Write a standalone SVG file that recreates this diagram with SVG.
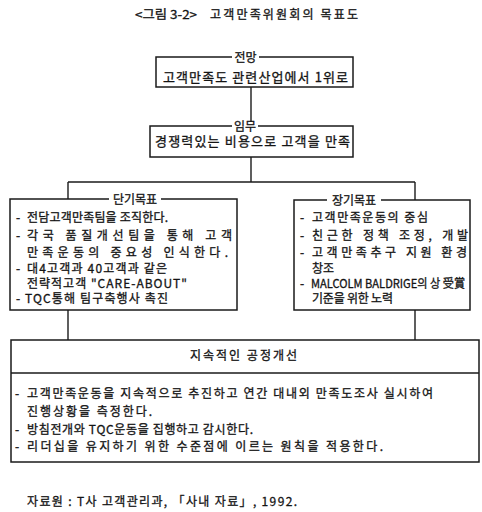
<svg xmlns="http://www.w3.org/2000/svg" width="482" height="512" viewBox="0 0 482 512">
<style>
text{font-family:"Noto Sans CJK KR","Noto Sans",sans-serif;fill:#141414;font-size:12px;stroke:#141414;stroke-width:0.3}
.box{fill:none;stroke:#1a1a1a;stroke-width:1.5}
.big{font-size:13px}
.lbl{text-anchor:middle}
.mask{fill:#fff}
.conn line{stroke:#1a1a1a;stroke-width:1.4}
</style>
<rect width="482" height="512" fill="#fff"/>
<g id="title">
<text x="135" y="19" textLength="62" lengthAdjust="spacingAndGlyphs">&lt;그림 3-2&gt;</text>
<text x="210" y="19" textLength="148" lengthAdjust="spacing">고객만족위원회의 목표도</text>
</g>
<g class="conn" id="connectors">
<line x1="251" y1="87" x2="251" y2="126"/>
<line x1="251" y1="157" x2="251" y2="182"/>
<line x1="68" y1="182" x2="415" y2="182"/>
<line x1="68" y1="182" x2="68" y2="199"/>
<line x1="415" y1="182" x2="415" y2="200"/>
<line x1="68" y1="310" x2="68" y2="340"/>
<line x1="415" y1="310" x2="415" y2="340"/>
</g>
<g id="vision">
<rect class="box" x="156" y="57" width="197" height="30"/>
<rect class="mask" x="232" y="53" width="27" height="8"/>
<text class="lbl" x="245.5" y="61.5">전망</text>
<text class="big" x="163" y="82" textLength="185" lengthAdjust="spacing">고객만족도 관련산업에서 1위로</text>
</g>
<g id="mission">
<rect class="box" x="150" y="126" width="203" height="31"/>
<rect class="mask" x="232" y="122" width="26" height="8"/>
<text class="lbl" x="245" y="130.5">임무</text>
<text class="big" x="155" y="146" textLength="195" lengthAdjust="spacing">경쟁력있는 비용으로 고객을 만족</text>
</g>
<g id="short-term">
<rect class="box" x="10" y="199" width="227" height="111"/>
<rect class="mask" x="109" y="195" width="52" height="8"/>
<text class="lbl" x="135" y="204">단기목표</text>
<text x="16" y="221.5">-</text>
<text x="27" y="221.5" textLength="141" lengthAdjust="spacing">전담고객만족팀을 조직한다.</text>
<text x="16" y="239.5">-</text>
<text x="27" y="239.5" textLength="205" lengthAdjust="spacing">각국 품질개선팀을 통해 고객</text>
<text x="27" y="256.5" textLength="201" lengthAdjust="spacing">만족운동의 중요성 인식한다.</text>
<text x="16" y="272.5">-</text>
<text x="27" y="272.5" textLength="140" lengthAdjust="spacing">대4고객과 40고객과 같은</text>
<text x="27" y="287.5" textLength="160" lengthAdjust="spacing">전략적고객 "CARE-ABOUT"</text>
<text x="16" y="302.5">-</text>
<text x="25" y="302.5" textLength="143" lengthAdjust="spacing">TQC통해 팀구축행사 촉진</text>
</g>
<g id="long-term">
<rect class="box" x="294" y="200" width="176" height="110"/>
<rect class="mask" x="327" y="196" width="54" height="8"/>
<text class="lbl" x="354" y="205">장기목표</text>
<text x="300" y="222">-</text>
<text x="312" y="222" textLength="116" lengthAdjust="spacing">고객만족운동의 중심</text>
<text x="300" y="239.5">-</text>
<text x="312" y="239.5" textLength="156" lengthAdjust="spacing">친근한 정책 조정, 개발</text>
<text x="300" y="256.5">-</text>
<text x="312" y="256.5" textLength="155" lengthAdjust="spacing">고객만족추구 지원 환경</text>
<text x="312" y="272.5">창조</text>
<text x="300" y="287.5">-</text>
<text x="311" y="287.5" textLength="154" lengthAdjust="spacingAndGlyphs">MALCOLM BALDRIGE의 상 受賞</text>
<text x="312" y="302.5" textLength="81" lengthAdjust="spacing">기준을 위한 노력</text>
</g>
<g id="improvement">
<rect class="box" x="11" y="340" width="468" height="122"/>
<line x1="11" y1="373" x2="479" y2="373" stroke="#1a1a1a" stroke-width="1.3"/>
<text x="190" y="359.5" textLength="107" lengthAdjust="spacing">지속적인 공정개선</text>
<text x="15" y="397.5">-</text>
<text x="27" y="397.5" textLength="406" lengthAdjust="spacing">고객만족운동을 지속적으로 추진하고 연간 대내외 만족도조사 실시하여</text>
<text x="27" y="416" textLength="125" lengthAdjust="spacing">진행상황을 측정한다.</text>
<text x="15" y="434">-</text>
<text x="27" y="434" textLength="226" lengthAdjust="spacing">방침전개와 TQC운동을 집행하고 감시한다.</text>
<text x="15" y="451">-</text>
<text x="27" y="451" textLength="356" lengthAdjust="spacing">리더십을 유지하기 위한 수준점에 이르는 원칙을 적용한다.</text>
</g>
<g id="source">
<text x="27" y="506" textLength="270" lengthAdjust="spacing">자료원 : T사 고객관리과, 「사내 자료」, 1992.</text>
</g>
</svg>
